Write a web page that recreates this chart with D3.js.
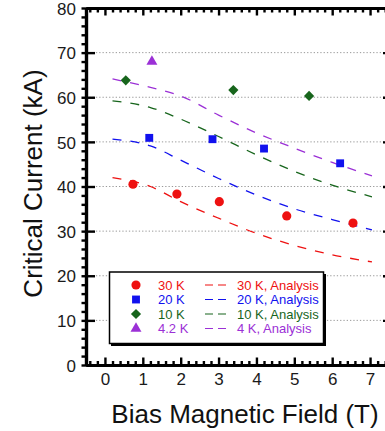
<!DOCTYPE html>
<html>
<head>
<meta charset="utf-8">
<script src="https://cdn.jsdelivr.net/npm/d3@7"></script>
<style>
  body { margin: 0; background: #fff; }
  svg { display: block; font-family: Arial, "Liberation Sans", sans-serif; }
  .axis path, .axis line { stroke: #000; }
  .axis text { font-size: 17px; fill: #1a1a1a; }
</style>
</head>
<body>
<svg id="chart" width="385" height="431"></svg>
<script>
// measured points
const temps = ['30 K', '20 K', '10 K', '4.2 K']
const analysisLabels = ['30 K, Analysis', '20 K, Analysis', '10 K, Analysis', '4 K, Analysis']
const colors = ['#ee1111', '#1111ee', '#17651c', '#9b30d6']

const field30 = [0.74, 1.90, 3.02, 4.80, 6.55]
const current30 = [40.5, 38.3, 36.6, 33.4, 31.8]
const field20 = [1.17, 2.84, 4.20, 6.21]
const current20 = [50.9, 50.6, 48.5, 45.2]
const field10 = [0.55, 3.39, 5.39]
const current10 = [63.8, 61.6, 60.3]
const field4 = [1.24]
const current4 = [68.0]

// analysis curves
const fieldAnalysis = [0.2, 1.2, 2, 3, 4, 5, 6, 7.05]
const analysis30 = [42.0, 40.0, 36.6, 32.9, 29.5, 26.8, 24.7, 23.1]
const analysis20 = [50.6, 49.1, 45.9, 41.8, 38.1, 35.0, 32.6, 30.3]
const analysis10 = [59.2, 57.7, 55.1, 51.2, 47.1, 43.4, 40.3, 37.7]
const analysis4 = [64.1, 62.2, 60.3, 56.0, 52.0, 48.6, 45.4, 42.4]

const xTicks = [0, 1, 2, 3, 4, 5, 6, 7]
const yTicks = [0, 10, 20, 30, 40, 50, 60, 70, 80]
const gridValues = [10, 20, 30, 40, 50, 60, 70]

const measured = [
  { x: field30, y: current30, shape: d3.symbolCircle, size: 66, rot: 0 },
  { x: field20, y: current20, shape: d3.symbolSquare, size: 62, rot: 0 },
  { x: field10, y: current10, shape: d3.symbolSquare, size: 52, rot: 45 },
  { x: field4, y: current4, shape: d3.symbolTriangle, size: 52, rot: 0 }
]
const analysis = [analysis30, analysis20, analysis10, analysis4]

const svg = d3.select('#chart')
const plotLeft = 86, plotRight = 389, plotTop = 8, plotBottom = 365

const x = d3.scaleLinear().domain([-0.5, 7.5]).range([plotLeft, plotRight])
const y = d3.scaleLinear().domain([0, 80]).range([plotBottom, plotTop])

const xMinor = d3.range(-0.4, 7.5, 0.2).map(v => +v.toFixed(1)).filter(v => !xTicks.includes(v) && v > -0.5)
const yMinor = d3.range(2, 80, 2).filter(v => v % 10 !== 0)

// grid
svg.append('g')
  .selectAll('line')
  .data(gridValues)
  .join('line')
    .attr('x1', plotLeft)
    .attr('x2', plotRight)
    .attr('y1', d => y(d))
    .attr('y2', d => y(d))
    .attr('stroke', '#9a9a9a')
    .attr('stroke-width', 1)
    .attr('stroke-dasharray', '1.3,2')

// analysis lines
const line = d3.line()
  .curve(d3.curveMonotoneX)
  .x((d, i) => x(fieldAnalysis[i]))
  .y(d => y(d))

svg.append('g')
  .selectAll('path')
  .data(analysis)
  .join('path')
    .attr('d', line)
    .attr('fill', 'none')
    .attr('stroke', (d, i) => colors[i])
    .attr('stroke-width', 1.3)
    .attr('stroke-dasharray', '9,9')

// markers
measured.forEach((s, i) => {
  svg.append('g')
    .selectAll('path')
    .data(s.x.map((v, j) => [v, s.y[j]]))
    .join('path')
      .attr('d', d3.symbol(s.shape, s.size))
      .attr('transform', d => `translate(${x(d[0])},${y(d[1])}) rotate(${s.rot})`)
      .attr('fill', colors[i])
})

// axes
function styleAxis(g) {
  g.attr('class', 'axis')
  g.select('.domain').attr('stroke-width', 3.2)
  g.selectAll('.tick line').attr('stroke-width', 2.4)
}

// bottom
svg.append('g')
  .attr('transform', `translate(0,${plotBottom})`)
  .call(d3.axisBottom(x).tickValues(xMinor).tickSizeInner(-4).tickSizeOuter(0).tickFormat(''))
  .call(styleAxis)
svg.append('g')
  .attr('transform', `translate(0,${plotBottom})`)
  .call(d3.axisBottom(x).tickValues(xTicks).tickSizeInner(-7.5).tickSizeOuter(0))
  .call(styleAxis)
  .call(g => g.selectAll('text').attr('y', 20).attr('dy', 0))

// top
svg.append('g')
  .attr('transform', `translate(0,${plotTop})`)
  .call(d3.axisTop(x).tickValues(xMinor).tickSizeInner(-4.5).tickSizeOuter(0).tickFormat(''))
  .call(styleAxis)
svg.append('g')
  .attr('transform', `translate(0,${plotTop})`)
  .call(d3.axisTop(x).tickValues(xTicks).tickSizeInner(-7.5).tickSizeOuter(0).tickFormat(''))
  .call(styleAxis)

// left
svg.append('g')
  .attr('transform', `translate(${plotLeft},0)`)
  .call(d3.axisLeft(y).tickValues(yMinor.concat(yTicks)).tickSize(4.5).tickSizeOuter(0).tickFormat(''))
  .call(styleAxis)
svg.append('g')
  .attr('transform', `translate(${plotLeft},0)`)
  .call(d3.axisLeft(y).tickValues(yTicks).tickSizeInner(-9).tickSizeOuter(0).tickPadding(10))
  .call(styleAxis)
  .call(g => g.selectAll('text').attr('dy', '0.36em'))

// right (mostly off canvas)
svg.append('g')
  .attr('transform', `translate(${plotRight},0)`)
  .call(d3.axisRight(y).tickValues(yTicks).tickSizeInner(-6).tickSizeOuter(0).tickFormat(''))
  .call(styleAxis)

// axis titles
svg.append('text')
  .attr('x', 245)
  .attr('y', 423)
  .attr('text-anchor', 'middle')
  .style('font-size', '26px')
  .attr('fill', '#111')
  .text('Bias Magnetic Field (T)')

svg.append('text')
  .attr('transform', `translate(42,${y(40) - 3}) rotate(-90)`)
  .attr('text-anchor', 'middle')
  .style('font-size', '26px')
  .attr('fill', '#111')
  .text('Critical Current (kA)')

// legend
const legend = svg.append('g')
legend.append('rect')
  .attr('x', 111).attr('y', 274)
  .attr('width', 215).attr('height', 72)
  .attr('fill', '#000')
legend.append('rect')
  .attr('x', 109.5).attr('y', 272)
  .attr('width', 214).attr('height', 71.5)
  .attr('fill', '#fff')
  .attr('stroke', '#000')
  .attr('stroke-width', 1.5)

const rowY = [285, 299.5, 314, 328.5]
temps.forEach((t, i) => {
  const s = measured[i]
  legend.append('path')
    .attr('d', d3.symbol(s.shape, s.size))
    .attr('transform', `translate(136,${rowY[i]}) rotate(${s.rot})`)
    .attr('fill', colors[i])
  legend.append('text')
    .attr('x', 158)
    .attr('y', rowY[i] + 4.6)
    .style('font-size', '13px')
    .attr('fill', colors[i])
    .text(t)
  legend.append('line')
    .attr('x1', 205).attr('x2', 226)
    .attr('y1', rowY[i]).attr('y2', rowY[i])
    .attr('stroke', colors[i])
    .attr('stroke-width', 1.2)
    .attr('stroke-dasharray', '8,5')
  legend.append('text')
    .attr('x', 237)
    .attr('y', rowY[i] + 4.6)
    .style('font-size', '13px')
    .attr('fill', colors[i])
    .text(analysisLabels[i])
})
</script>
</body>
</html>
